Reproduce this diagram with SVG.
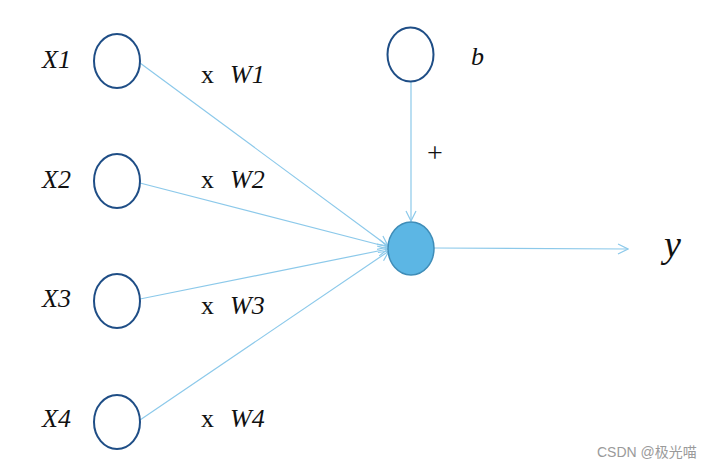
<svg xmlns="http://www.w3.org/2000/svg" width="711" height="469" viewBox="0 0 711 469">
<style>
.in{fill:#fff;stroke:#1F4E86;stroke-width:2}
.out{fill:#5CB6E4;stroke:#3F8DB8;stroke-width:1.5}
.c{stroke:#8CC9EA;stroke-width:1.2;fill:none;marker-end:url(#a)}
.t{font-family:"Liberation Serif",serif;font-style:italic;font-size:26px;fill:#111}
.m{font-family:"Liberation Serif",serif;font-size:26px;fill:#111}
.w{font-family:"Liberation Sans",Arial,"Noto Sans CJK SC",sans-serif;font-size:14px;fill:#9a9a9a}
</style>
<defs>
<marker id="a" viewBox="0 0 12 12" refX="11" refY="6" markerWidth="12" markerHeight="12" markerUnits="userSpaceOnUse" orient="auto">
<path d="M1,1 L11,6 L1,11" fill="none" stroke="#8CC9EA" stroke-width="1.2"/>
</marker>
</defs>
<g id="connectors">
<line class="c" x1="140" y1="63" x2="388" y2="246"/>
<line class="c" x1="140" y1="183" x2="388" y2="247"/>
<line class="c" x1="140" y1="299" x2="388" y2="249"/>
<line class="c" x1="140" y1="420" x2="389" y2="251"/>
<line class="c" x1="411" y1="82" x2="411" y2="221"/>
<line class="c" x1="434" y1="248" x2="628" y2="249"/>
</g>
<g id="x1"><ellipse class="in" cx="117" cy="61" rx="23" ry="27"/><text class="t" x="42" y="68">X1</text></g>
<g id="x2"><ellipse class="in" cx="117" cy="181" rx="23" ry="27"/><text class="t" x="42" y="188">X2</text></g>
<g id="x3"><ellipse class="in" cx="117" cy="301" rx="23" ry="27"/><text class="t" x="42" y="307">X3</text></g>
<g id="x4"><ellipse class="in" cx="117" cy="422" rx="23" ry="27"/><text class="t" x="42" y="427">X4</text></g>
<g id="w1"><text class="m" x="201" y="83">x</text><text class="t" x="230" y="83">W1</text></g>
<g id="w2"><text class="m" x="201" y="188">x</text><text class="t" x="230" y="188">W2</text></g>
<g id="w3"><text class="m" x="201" y="314">x</text><text class="t" x="230" y="314">W3</text></g>
<g id="w4"><text class="m" x="201" y="427">x</text><text class="t" x="230" y="427">W4</text></g>
<g id="b"><ellipse class="in" cx="410.5" cy="54.5" rx="23" ry="27"/><text class="t" x="471" y="65">b</text></g>
<g id="plus"><text class="m" x="427" y="162" style="font-size:28px">+</text></g>
<g id="sum"><ellipse class="out" cx="411" cy="248.5" rx="23" ry="26.5"/></g>
<g id="y"><text class="t" x="664" y="257" style="font-size:38px">y</text></g>
<text class="w" x="597" y="457">CSDN @极光喵</text>
</svg>
